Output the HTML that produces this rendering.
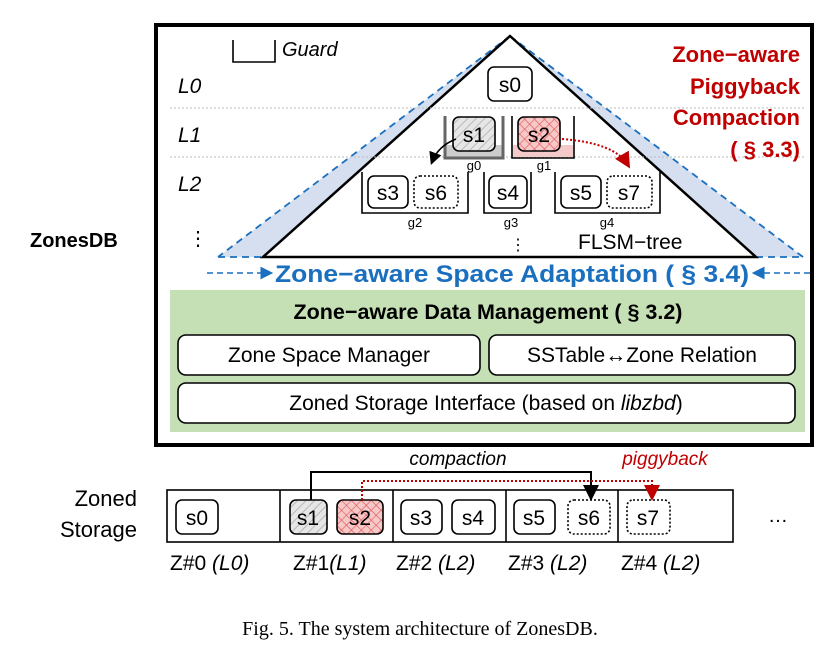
<!DOCTYPE html><html><head><style>body{margin:0;background:#fff}svg text{font-family:"Liberation Sans",sans-serif}</style></head><body>
<svg width="838" height="649" viewBox="0 0 838 649" xmlns="http://www.w3.org/2000/svg">
<defs>
<pattern id="hatch" width="6" height="6" patternUnits="userSpaceOnUse" patternTransform="rotate(45)"><rect width="6" height="6" fill="#e6e6e6"/><line x1="0" y1="0" x2="0" y2="6" stroke="#aaa" stroke-width="1.5"/></pattern>
<pattern id="cross" width="7" height="7" patternUnits="userSpaceOnUse" patternTransform="rotate(45)"><rect width="7" height="7" fill="#f7c8c8"/><path d="M0 0H7M0 0V7" stroke="#d55" stroke-width="1.2"/></pattern>
<marker id="ab" markerWidth="8" markerHeight="8" refX="6" refY="4" orient="auto"><path d="M0 0L8 4L0 8z" fill="#000"/></marker>
<marker id="ar" markerWidth="8" markerHeight="8" refX="6" refY="4" orient="auto"><path d="M0 0L8 4L0 8z" fill="#c00000"/></marker>
<marker id="abl" markerWidth="8" markerHeight="8" refX="6" refY="4" orient="auto"><path d="M0 0L8 4L0 8z" fill="#1a6fbf"/></marker>
</defs>
<rect x="156" y="25" width="656" height="420" fill="#fff" stroke="#000" stroke-width="4"/>
<path d="M510 36L218 257H263Z" fill="#d6dff0"/><path d="M510 36L803 257H756Z" fill="#d6dff0"/>
<path d="M510 36L218 257M510 36L803 257M218 257H263M756 257H803" stroke="#1a6fbf" stroke-width="1.8" stroke-dasharray="7 5" fill="none"/>
<path d="M510 36L263 257H756Z" fill="#fff" stroke="#000" stroke-width="2.5"/>
<g stroke="#bbb" stroke-dasharray="2 2"><line x1="170" y1="108" x2="805" y2="108"/><line x1="170" y1="157" x2="805" y2="157"/></g>
<g font-style="italic" font-size="21"><text x="178" y="93">L0</text><text x="178" y="142">L1</text><text x="178" y="191">L2</text></g>
<text x="188" y="245" font-size="20">⋮</text><text x="510" y="250" font-size="16">⋮</text>
<path d="M233 40V62H275V40" fill="none" stroke="#000" stroke-width="1.6"/><text x="282" y="56" font-size="20" font-style="italic">Guard</text>
<g fill="none" stroke="#000" stroke-width="1.6">
<rect x="488" y="67" width="44" height="34" rx="6" fill="#fff"/>
<rect x="446" y="145" width="56" height="12" fill="#ccc" stroke="none"/><path d="M445 116V158H503V116" stroke-width="3" stroke="#666"/>
<rect x="453" y="117" width="42" height="34" rx="6" fill="url(#hatch)"/>
<rect x="513" y="145" width="60" height="12" fill="#f3c9c9" stroke="none"/><path d="M512 116V158H574V116"/>
<rect x="518" y="117" width="42" height="34" rx="6" fill="url(#cross)"/>
<path d="M362 172V213H468V172"/><path d="M484 172V213H531V172"/><path d="M555 172V213H660V172"/>
<rect x="368" y="176" width="40" height="32" rx="6"/><rect x="414" y="176" width="44" height="32" rx="6" stroke-dasharray="2 2"/>
<rect x="489" y="176" width="38" height="32" rx="6"/>
<rect x="561" y="176" width="40" height="32" rx="6"/><rect x="607" y="176" width="45" height="32" rx="6" stroke-dasharray="2 2"/>
</g>
<g font-size="21" text-anchor="middle"><text x="510" y="92">s0</text><text x="474" y="142">s1</text><text x="539" y="142">s2</text>
<text x="388" y="200">s3</text><text x="436" y="200">s6</text><text x="508" y="200">s4</text><text x="581" y="200">s5</text><text x="629" y="200">s7</text></g>
<g font-size="13" text-anchor="middle"><text x="474" y="170">g0</text><text x="544" y="170">g1</text><text x="415" y="227">g2</text><text x="511" y="227">g3</text><text x="607" y="227">g4</text></g>
<path d="M456 139Q438 146 432 162" stroke="#000" stroke-width="1.6" fill="none" marker-end="url(#ab)"/>
<path d="M562 139Q615 143 628 165" stroke="#c00000" stroke-width="2" stroke-dasharray="2 2" fill="none" marker-end="url(#ar)"/>
<text x="578" y="249" font-size="21">FLSM−tree</text>
<g font-size="22" font-weight="bold" fill="#c00000" text-anchor="end"><text x="800" y="62">Zone−aware</text><text x="800" y="94">Piggyback</text><text x="800" y="125">Compaction</text><text x="800" y="157">( § 3.3)</text></g>
<text x="30" y="247" font-size="20" font-weight="bold">ZonesDB</text>
<text x="512" y="282" font-size="24" font-weight="bold" fill="#1a6fbf" text-anchor="middle" textLength="474" lengthAdjust="spacingAndGlyphs">Zone−aware Space Adaptation ( § 3.4)</text>
<path d="M207 273H270" stroke="#1a6fbf" stroke-width="1.6" stroke-dasharray="6 4" marker-end="url(#abl)"/><path d="M810 273H755" stroke="#1a6fbf" stroke-width="1.6" stroke-dasharray="6 4" marker-end="url(#abl)"/>
<rect x="170" y="290" width="635" height="142" fill="#c5e0b4"/>
<text x="488" y="319" font-size="21.5" font-weight="bold" text-anchor="middle">Zone−aware Data Management ( § 3.2)</text>
<g fill="#fff" stroke="#000" stroke-width="1.6"><rect x="178" y="335" width="302" height="40" rx="8"/><rect x="489" y="335" width="306" height="40" rx="8"/><rect x="178" y="383" width="617" height="40" rx="8"/></g>
<g font-size="21" text-anchor="middle"><text x="329" y="362">Zone Space Manager</text><text x="642" y="362">SSTable↔Zone Relation</text><text x="486" y="410">Zoned Storage Interface (based on <tspan font-style="italic">libzbd</tspan>)</text></g>
<g font-size="22" text-anchor="end"><text x="137" y="506">Zoned</text><text x="137" y="537">Storage</text></g>
<rect x="167" y="490" width="566" height="52" fill="none" stroke="#000" stroke-width="1.6"/>
<g stroke="#000" stroke-width="1.6"><line x1="280" y1="490" x2="280" y2="542"/><line x1="393" y1="490" x2="393" y2="542"/><line x1="506" y1="490" x2="506" y2="542"/><line x1="618" y1="490" x2="618" y2="542"/></g>
<g fill="none" stroke="#000" stroke-width="1.6">
<rect x="176" y="500" width="42" height="34" rx="6"/><rect x="290" y="500" width="37" height="34" rx="6" fill="url(#hatch)"/><rect x="337" y="500" width="46" height="34" rx="6" fill="url(#cross)"/>
<rect x="401" y="500" width="41" height="34" rx="6"/><rect x="452" y="500" width="43" height="34" rx="6"/><rect x="514" y="500" width="41" height="34" rx="6"/>
<rect x="568" y="500" width="42" height="34" rx="6" stroke-dasharray="2 2"/><rect x="627" y="500" width="43" height="34" rx="6" stroke-dasharray="2 2"/></g>
<g font-size="21" text-anchor="middle"><text x="197" y="525">s0</text><text x="308" y="525">s1</text><text x="360" y="525">s2</text><text x="421" y="525">s3</text><text x="473" y="525">s4</text><text x="534" y="525">s5</text><text x="589" y="525">s6</text><text x="648" y="525">s7</text></g>
<text x="778" y="522" font-size="20" text-anchor="middle">…</text>
<path d="M311 500V472H591V497" fill="none" stroke="#000" stroke-width="2" marker-end="url(#ab)"/>
<path d="M362 500V481H652V497" fill="none" stroke="#c00000" stroke-width="2" stroke-dasharray="2 2" marker-end="url(#ar)"/>
<text x="458" y="465" font-size="19" font-style="italic" text-anchor="middle">compaction</text>
<text x="665" y="465" font-size="19" font-style="italic" fill="#c00000" text-anchor="middle">piggyback</text>
<g font-size="21"><text x="170" y="570">Z#0 <tspan font-style="italic">(L0)</tspan></text><text x="293" y="570">Z#1<tspan font-style="italic">(L1)</tspan></text><text x="396" y="570">Z#2 <tspan font-style="italic">(L2)</tspan></text><text x="508" y="570">Z#3 <tspan font-style="italic">(L2)</tspan></text><text x="621" y="570">Z#4 <tspan font-style="italic">(L2)</tspan></text></g>
<text x="420" y="635" font-size="20" text-anchor="middle" style="font-family:'Liberation Serif',serif">Fig. 5.  The system architecture of ZonesDB.</text>
</svg></body></html>
